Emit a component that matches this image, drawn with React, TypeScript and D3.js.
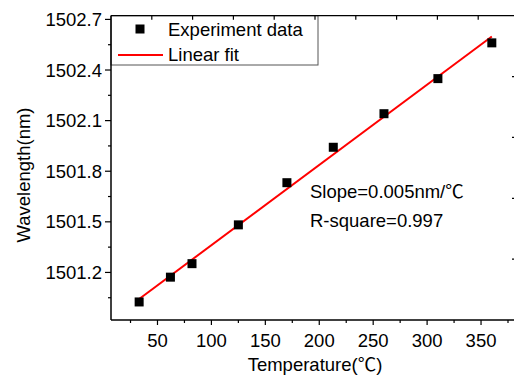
import React from "react";
import * as d3 from "d3";

const temps = [33, 62, 82, 125, 170, 213, 260, 310, 360];
const wavelengths = [1501.025, 1501.172, 1501.252, 1501.482, 1501.732, 1501.942, 1502.141, 1502.349, 1502.561];
const xTickValues = [50, 100, 150, 200, 250, 300, 350];
const xMinorValues = [25, 75, 125, 175, 225, 275, 325, 375];
const yTickValues = [1501.2, 1501.5, 1501.8, 1502.1, 1502.4, 1502.7];
const yMinorValues = [1501.05, 1501.35, 1501.65, 1501.95, 1502.25, 1502.55];
const legendLabels = ["Experiment data", "Linear fit"];
const annotations = ["Slope=0.005nm/\u2103", "R-square=0.997"];
const xTitle = "Temperature(\u2103)";
const yTitle = "Wavelength(nm)";

const W = 514;
const H = 377;
const FONT = "Arial, 'Liberation Sans', 'Noto Sans CJK SC', 'DejaVu Sans', sans-serif";

export default function App() {
  const L = 111, R = 519, T = 15.7, B = 320;
  const x = d3.scaleLinear().domain([6.9, 385.2]).range([L, R]);
  const y = d3.scaleLinear().domain([1500.918, 1502.722]).range([B, T]);
  const topScale = d3.scaleLinear().domain([0, 10]).range([L, R]);
  const rightScale = d3.scaleLinear().domain([0, 5]).range([B, T]);

  const mx = d3.mean(temps)!;
  const my = d3.mean(wavelengths)!;
  let sxy = 0, sxx = 0;
  temps.forEach((t, i) => {
    sxy += (t - mx) * (wavelengths[i] - my);
    sxx += (t - mx) * (t - mx);
  });
  const slope = sxy / sxx;
  const intercept = my - slope * mx;
  const fitX = [d3.min(temps)!, d3.max(temps)!];
  const line = d3
    .line<number>()
    .x((d) => x(d))
    .y((d) => y(intercept + slope * d));

  const fs = 18.5;
  const ms = 9;

  return (
    <svg
      width={W}
      height={H}
      style={{ position: "absolute", left: 0, top: 0, overflow: "hidden", background: "#fff" }}
      fontFamily={FONT}
    >
      <rect x={0} y={0} width={W} height={H} fill="#fff" />
      <path d={line(fitX) || ""} stroke="#ff0000" strokeWidth={2} fill="none" />
      {temps.map((t, i) => (
        <rect key={i} x={x(t) - ms / 2} y={y(wavelengths[i]) - ms / 2} width={ms} height={ms} fill="#000" />
      ))}

      <rect x={L} y={T} width={207} height={49.3} fill="#fff" stroke="#555" strokeWidth={1} />
      <rect x={140 - ms / 2} y={29 - ms / 2} width={ms} height={ms} fill="#000" />
      <text x={168} y={29} fontSize={fs} dominantBaseline="central" fill="#000">{legendLabels[0]}</text>
      <line x1={118} x2={163} y1={55} y2={55} stroke="#ff0000" strokeWidth={2} />
      <text x={168} y={54} fontSize={fs} dominantBaseline="central" fill="#000">{legendLabels[1]}</text>

      <line x1={L} x2={L} y1={T} y2={B} stroke="#000" strokeWidth={1.5} />
      <line x1={L} x2={R} y1={B} y2={B} stroke="#000" strokeWidth={1.5} />
      <line x1={L} x2={R} y1={T} y2={T} stroke="#000" strokeWidth={1.2} />
      <line x1={R} x2={R} y1={T} y2={B} stroke="#000" strokeWidth={1.2} />

      {xTickValues.map((v) => (
        <g key={v}>
          <line x1={x(v)} x2={x(v)} y1={B} y2={B + 5} stroke="#000" strokeWidth={1.2} />
          <text x={x(v)} y={340.5} fontSize={fs} textAnchor="middle" dominantBaseline="central" fill="#000">
            {v}
          </text>
        </g>
      ))}
      {xMinorValues.map((v) => (
        <line key={v} x1={x(v)} x2={x(v)} y1={B} y2={B + 3} stroke="#000" strokeWidth={1.2} />
      ))}

      {yTickValues.map((v) => (
        <g key={v}>
          <line x1={L - 6} x2={L} y1={y(v)} y2={y(v)} stroke="#000" strokeWidth={1.2} />
          <text x={102} y={y(v)} fontSize={fs} textAnchor="end" dominantBaseline="central" fill="#000">
            {v.toFixed(1)}
          </text>
        </g>
      ))}
      {yMinorValues.map((v) => (
        <line key={v} x1={L - 3} x2={L} y1={y(v)} y2={y(v)} stroke="#000" strokeWidth={1.2} />
      ))}

      {d3.range(1, 10).map((k) => (
        <line key={k} x1={topScale(k)} x2={topScale(k)} y1={T} y2={T + 4} stroke="#000" strokeWidth={1.2} />
      ))}
      {d3.range(1, 5).map((k) => (
        <line key={k} x1={R - 7} x2={R} y1={rightScale(k)} y2={rightScale(k)} stroke="#000" strokeWidth={1.2} />
      ))}

      <text x={310} y={191.5} fontSize={fs} dominantBaseline="central" fill="#000">{annotations[0]}</text>
      <text x={310} y={220.5} fontSize={fs} dominantBaseline="central" fill="#000">{annotations[1]}</text>

      <text x={315} y={364.5} fontSize={fs} textAnchor="middle" dominantBaseline="central" fill="#000">
        {xTitle}
      </text>
      <text
        transform={`translate(23,175) rotate(-90)`}
        fontSize={fs}
        textAnchor="middle"
        dominantBaseline="central"
        fill="#000"
      >
        {yTitle}
      </text>
    </svg>
  );
}
